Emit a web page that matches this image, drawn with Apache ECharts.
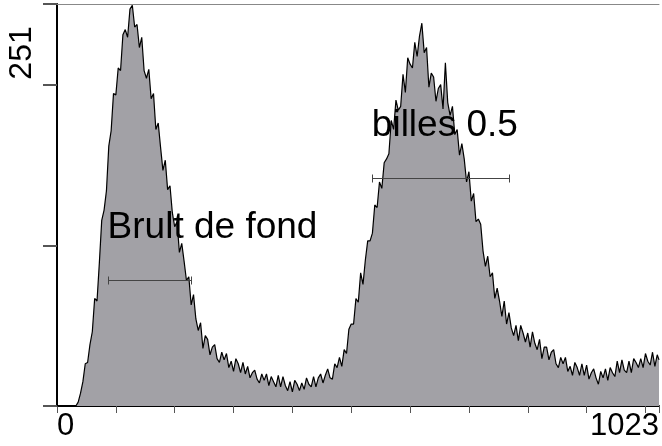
<!DOCTYPE html>
<html>
<head>
<meta charset="utf-8">
<script src="https://cdn.jsdelivr.net/npm/echarts@6/dist/echarts.min.js"></script>
<style>
html,body{margin:0;padding:0;background:#fff;}
#chart{width:662px;height:446px;}
</style>
</head>
<body>
<div id="chart"></div>
<script>
// Histogram counts, one value every 4 channels (0,4,...,1020) plus channel 1023
const counts = [
  0,0,0,0,0,0,0,0,0,3,10,19,33,34,48,58,
  84,82,112,145,153,168,203,215,244,243,264,262,290,294,288,310,
  313,296,298,280,288,262,256,263,240,244,216,221,202,184,192,169,
  172,151,140,144,120,127,113,98,101,79,87,68,59,65,45,55,
  52,40,46,48,37,34,42,36,41,30,35,27,37,33,26,34,
  25,31,22,26,28,21,18,25,20,25,16,23,19,15,24,15,
  23,16,12,19,11,20,17,12,18,13,22,17,15,23,15,22,
  25,18,24,29,22,21,33,30,38,31,44,41,60,64,64,84,
  81,104,95,114,129,129,135,157,155,175,170,190,193,197,223,216,
  239,231,234,259,245,272,267,264,284,273,289,299,276,280,249,260,
  257,238,248,251,232,268,237,227,234,212,216,196,205,193,175,183,
  160,166,144,146,142,121,109,117,101,104,84,92,82,70,82,64,
  73,61,55,63,51,63,57,50,57,46,58,49,44,52,37,46,
  46,36,42,44,33,30,38,33,38,27,31,24,34,30,24,33,
  24,32,21,26,29,22,17,27,22,29,20,30,26,23,35,26,
  36,28,26,35,26,37,34,30,37,30,41,35,32,42,31,40,
  36
];
const channels = counts.map((_, i) => Math.min(i * 4, 1023));

// Axis
const xMin = 0, xMax = 1023, xTickStep = 100;
const xLabels = ['0', '1023'];
const yMin = 0, yMax = 314, yTickStep = 125.5;
const yLabels = ['251'];

// Gates (markers)
const gateNames = ['Brult de fond', 'billes 0.5'];
const gateStart = [86, 535];
const gateEnd = [227, 768];
const gateLevel = [98.5, 178];

const FONT = "'Liberation Sans', Arial, sans-serif";

const chart = echarts.init(document.getElementById('chart'), null, {renderer: 'canvas'});

const option = {
  animation: false,
  backgroundColor: '#ffffff',
  grid: {left: 57, top: 4, right: 2, bottom: 40, containLabel: false},
  xAxis: [
    {
      type: 'value', min: xMin, max: xMax, interval: xTickStep, position: 'bottom',
      axisLine: {show: true, lineStyle: {color: '#000', width: 2}},
      axisTick: {show: true, inside: false, length: 7, lineStyle: {color: '#555', width: 1}},
      axisLabel: {show: false},
      splitLine: {show: false}
    },
    {
      type: 'value', min: xMin, max: xMax, interval: xMax - xMin, position: 'bottom',
      axisLine: {show: false}, axisTick: {show: false}, splitLine: {show: false},
      axisLabel: {
        show: true, margin: 5, color: '#000', fontSize: 31, fontFamily: FONT,
        alignMinLabel: 'left', alignMaxLabel: 'right',
        formatter: v => (v === xMin ? xLabels[0] : (v === xMax ? xLabels[1] : ''))
      }
    },
    {
      type: 'value', min: xMin, max: xMax, position: 'top',
      axisLine: {show: true, lineStyle: {color: '#888', width: 1}},
      axisTick: {show: false}, axisLabel: {show: false}, splitLine: {show: false}
    }
  ],
  yAxis: [
    {
      type: 'value', min: yMin, max: yMax, interval: yTickStep, position: 'left',
      axisLine: {show: true, lineStyle: {color: '#888', width: 1}},
      axisTick: {show: true, inside: false, length: 14, lineStyle: {color: '#555', width: 2}},
      splitLine: {show: false},
      axisLabel: {
        show: true, rotate: 90, margin: 19, color: '#000', fontSize: 32, fontFamily: FONT,
        align: 'left', verticalAlign: 'bottom', padding: [0, 0, 0, 5],
        formatter: v => (Math.abs(v - 251) < 0.01 ? yLabels[0] : '')
      }
    },
    {
      type: 'value', min: yMin, max: yMax, position: 'right',
      axisLine: {show: true, lineStyle: {color: '#000', width: 2}},
      axisTick: {show: false}, axisLabel: {show: false}, splitLine: {show: false}
    }
  ],
  series: [
    {
      type: 'line',
      xAxisIndex: 0, yAxisIndex: 0,
      data: channels.map((c, i) => [c, counts[i]]),
      showSymbol: false,
      symbol: 'none',
      lineStyle: {color: '#000', width: 1.2},
      areaStyle: {color: '#a2a1a6', opacity: 1},
      z: 2
    },
    {
      type: 'custom',
      xAxisIndex: 0, yAxisIndex: 0,
      data: gateNames.map((n, i) => [gateStart[i], gateEnd[i], gateLevel[i]]),
      renderItem: function (params, api) {
        const i = params.dataIndex;
        const p1 = api.coord([api.value(0), api.value(2)]);
        const p2 = api.coord([api.value(1), api.value(2)]);
        const y = Math.round(p1[1]) + 0.5;
        const x1 = Math.round(p1[0]) + 0.5, x2 = Math.round(p2[0]) + 0.5;
        const ls = {stroke: '#444', lineWidth: 1};
        return {
          type: 'group',
          children: [
            {type: 'line', shape: {x1: x1, y1: y, x2: x2, y2: y}, style: ls},
            {type: 'line', shape: {x1: x1, y1: y - 4, x2: x1, y2: y + 4}, style: ls},
            {type: 'line', shape: {x1: x2, y1: y - 4, x2: x2, y2: y + 4}, style: ls},
            {type: 'text', x: p1[0], y: p1[1] - 52,
             style: {text: gateNames[i], fill: '#000', font: '37px ' + FONT,
                     textAlign: 'left', textVerticalAlign: 'middle'}}
          ]
        };
      },
      z: 5
    }
  ]
};
chart.setOption(option);
</script>
</body>
</html>
